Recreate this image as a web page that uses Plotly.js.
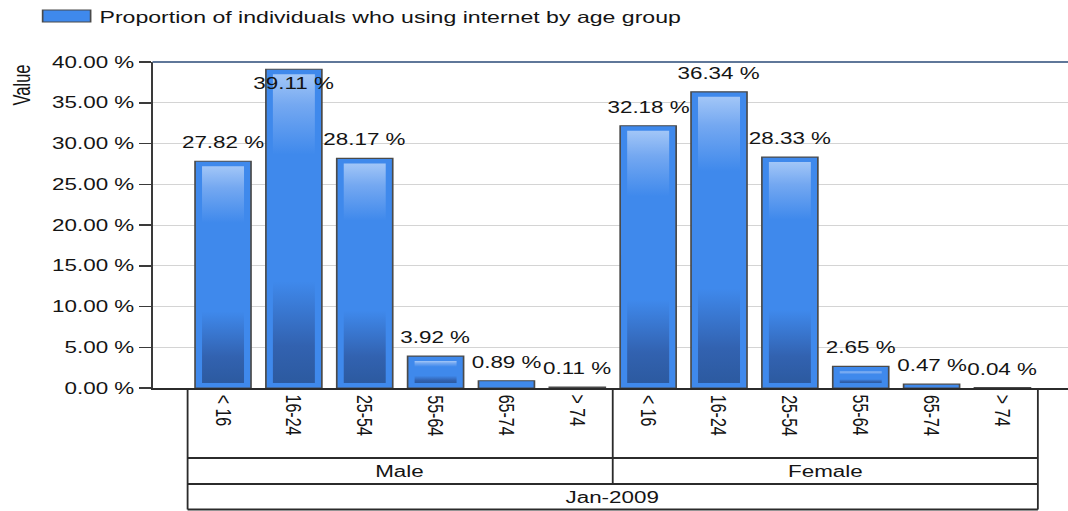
<!DOCTYPE html>
<html>
<head>
<meta charset="utf-8">
<script src="https://cdn.plot.ly/plotly-3.0.1.min.js"></script>
<style>
  html, body { margin: 0; padding: 0; background: #ffffff; overflow: hidden; width: 1068px; height: 511px; }
  #chart { width: 763px; height: 511px; transform: scaleX(1.39974); transform-origin: 0 0; }
</style>
</head>
<body>
<div id="chart"></div>
<script>
// ---- data ----
const seriesName = 'Proportion of individuals who using internet by age group';
const groups = ['Male', 'Female'];
const ageGroups = ['< 16', '16-24', '25-54', '55-64', '65-74', '> 74'];
const maleValues = [27.82, 39.11, 28.17, 3.92, 0.89, 0.11];
const femaleValues = [32.18, 36.34, 28.33, 2.65, 0.47, 0.04];
const periodLabel = 'Jan-2009';
const yAxisTitle = 'Value';

// ---- geometry (visual pixels of the 1068x511 picture) ----
const W = 763, H = 511;
const SX = 1068 / W;
const PLOT_LEFT = 152, PLOT_TOP = 62, PLOT_BOTTOM = 388;
const ML = PLOT_LEFT / SX;
const PW = W - ML;
const CAT0 = 222.5, CATSTEP = 70.9;
const X_MIN = -(CAT0 - PLOT_LEFT) / CATSTEP;
const X_MAX = (1068 - CAT0) / CATSTEP;
const Y_MAX = 40;
const PXU = (PLOT_BOTTOM - PLOT_TOP) / Y_MAX; // px per percent
const FONT = 'Liberation Sans, Arial, sans-serif';
const TXT = '#141414';

const paperX = vx => (vx / SX - ML) / PW;
const paperY = vy => (PLOT_BOTTOM - vy) / (PLOT_BOTTOM - PLOT_TOP);
const dataToPaperX = i => (i - X_MIN) / (X_MAX - X_MIN);

const values = maleValues.concat(femaleValues);
const perGroup = ageGroups.length;
const xs = values.map((_, i) => i);

const BAR_W = 0.79;
const traces = [{
  type: 'bar', x: xs, y: values, width: BAR_W, name: seriesName,
  marker: { color: '#3f89ec', line: { color: '#4a4a4a', width: 1.2 } },
  hoverinfo: 'skip', showlegend: false
}];

// inner gradient panels of each bar
const insetY = 5 / PXU;
const innerHalf = BAR_W / 2 - 7 / CATSTEP;
values.forEach((v, i) => {
  if (v * PXU < 14) return;
  traces.push({
    type: 'scatter', mode: 'lines',
    x: [i - innerHalf, i + innerHalf, i + innerHalf, i - innerHalf, i - innerHalf],
    y: [insetY, insetY, v - insetY, v - insetY, insetY],
    fill: 'toself',
    fillgradient: { type: 'vertical',
      colorscale: [[0, '#2c5aa0'], [0.12, '#3262b0'], [0.33, '#3f89ec'], [0.74, '#3f89ec'], [0.9, '#74a8f1'], [1, '#a2c6f7']] },
    line: { width: 0, color: 'rgba(0,0,0,0)' },
    hoverinfo: 'skip', showlegend: false
  });
});

const annotations = [];
// value labels
const aboveOff = 18.5 / PXU, halfText = 7 / PXU, insideOff = 14 / PXU;
values.forEach((v, i) => {
  let yc = v + aboveOff;
  if (yc + halfText > Y_MAX) yc = v - insideOff;
  annotations.push({ x: i, y: yc, xref: 'x', yref: 'y', text: v.toFixed(2) + ' %',
    showarrow: false, xanchor: 'center', yanchor: 'middle',
    font: { family: FONT, size: 16, color: TXT } });
});
// category labels (rotated)
groups.forEach((g, gi) => {
  ageGroups.forEach((a, k) => {
    annotations.push({ x: gi * perGroup + k, y: paperY(393), xref: 'x', yref: 'paper',
      text: a, textangle: 90, showarrow: false, xanchor: 'center', yanchor: 'top',
      font: { family: FONT, size: 16, color: TXT } });
  });
  annotations.push({ x: gi * perGroup + (perGroup - 1) / 2, y: paperY(471), xref: 'x', yref: 'paper',
    text: g, showarrow: false, xanchor: 'center', yanchor: 'middle',
    font: { family: FONT, size: 16, color: TXT } });
});
annotations.push({ x: (values.length - 1) / 2, y: paperY(497), xref: 'x', yref: 'paper',
  text: periodLabel, showarrow: false, xanchor: 'center', yanchor: 'middle',
  font: { family: FONT, size: 16, color: TXT } });
// y axis title
annotations.push({ x: paperX(21), y: paperY(85), xref: 'paper', yref: 'paper',
  text: yAxisTitle, textangle: -90, showarrow: false, xanchor: 'center', yanchor: 'middle',
  font: { family: FONT, size: 16.5, color: TXT } });
// legend text
annotations.push({ x: paperX(96), y: paperY(17), xref: 'paper', yref: 'paper',
  text: seriesName, showarrow: false, xanchor: 'left', yanchor: 'middle',
  font: { family: FONT, size: 16.5, color: TXT } });

const LC = '#2b2b2b';
const tL = dataToPaperX(-0.5), tR = dataToPaperX(values.length - 0.5), tM = dataToPaperX(perGroup - 0.5);
const yRow1 = paperY(458), yRow2 = paperY(484), yBot = paperY(509.5), yTop = 0;
const shapes = [
  // top border of plot
  { type: 'line', xref: 'paper', yref: 'paper', x0: 0, x1: 1, y0: 1, y1: 1, line: { color: '#5f7799', width: 2 } },
  // category table
  { type: 'line', xref: 'paper', yref: 'paper', x0: tL, x1: tL, y0: yTop, y1: yBot, line: { color: LC, width: 1.3 } },
  { type: 'line', xref: 'paper', yref: 'paper', x0: tR, x1: tR, y0: yTop, y1: yBot, line: { color: LC, width: 1.3 } },
  { type: 'line', xref: 'paper', yref: 'paper', x0: tM, x1: tM, y0: yTop, y1: yRow2, line: { color: LC, width: 1.3 } },
  { type: 'line', xref: 'paper', yref: 'paper', x0: tL, x1: tR, y0: yRow1, y1: yRow1, line: { color: LC, width: 1.8 } },
  { type: 'line', xref: 'paper', yref: 'paper', x0: tL, x1: tR, y0: yRow2, y1: yRow2, line: { color: LC, width: 1.8 } },
  { type: 'line', xref: 'paper', yref: 'paper', x0: tL, x1: tR, y0: yBot, y1: yBot, line: { color: LC, width: 1.8 } },
  // legend swatch
  { type: 'rect', xref: 'paper', yref: 'paper', x0: paperX(42), x1: paperX(90), y0: paperY(22), y1: paperY(10),
    fillcolor: '#3f89ec', line: { color: '#4a4a4a', width: 1.2 } }
];

const layout = {
  width: W, height: H,
  margin: { l: ML, r: 0, t: PLOT_TOP, b: H - PLOT_BOTTOM, pad: 0 },
  paper_bgcolor: '#ffffff', plot_bgcolor: '#ffffff',
  showlegend: false,
  xaxis: { range: [X_MIN, X_MAX], showticklabels: false, ticks: '', showgrid: false, zeroline: false,
    showline: true, linecolor: LC, linewidth: 2, fixedrange: true },
  yaxis: { range: [0, Y_MAX], dtick: 5, tick0: 0, tickformat: '.2f', ticksuffix: ' %',
    ticks: 'outside', ticklen: 12 / SX, tickwidth: 1.5, tickcolor: '#3a3a3a',
    showline: true, linecolor: '#3a3a3a', linewidth: 1.3,
    showgrid: true, gridcolor: '#d4d4d4', gridwidth: 1, zeroline: false,
    tickfont: { family: FONT, size: 16, color: TXT }, fixedrange: true },
  annotations: annotations,
  shapes: shapes,
  font: { family: FONT, size: 16, color: TXT }
};

Plotly.newPlot('chart', traces, layout, { staticPlot: true, displayModeBar: false });
</script>
</body>
</html>
